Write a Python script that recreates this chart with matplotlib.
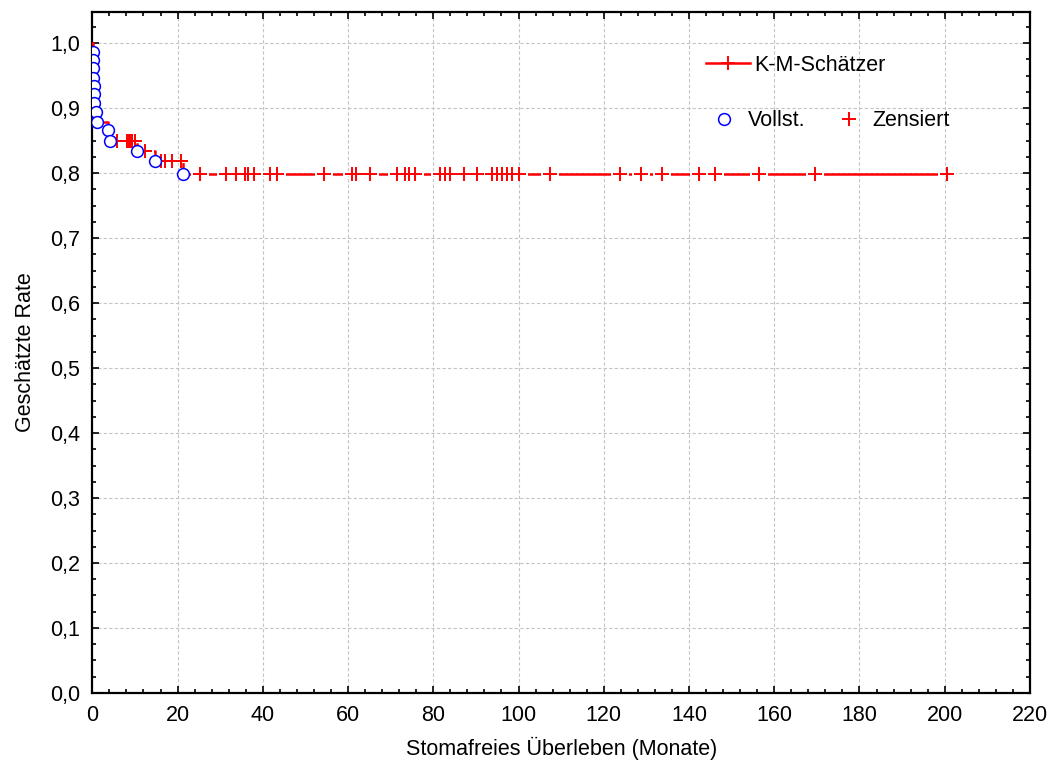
# km_stoma.py
# coding:utf-8

import numpy as np
import matplotlib
matplotlib.use('Agg')
import matplotlib.pyplot as plt
from matplotlib.lines import Line2D
from matplotlib.ticker import MultipleLocator

plt.rcParams['font.family'] = ['Liberation Sans', 'DejaVu Sans']

# Ereignisse (Stoma angelegt): Zeit in Monaten und K-M-Schaetzung danach
event_t = [0.1, 0.15, 0.2, 0.25, 0.3, 0.35, 0.4, 0.9, 1.2, 3.6, 4.2, 10.4, 14.8, 21.3]
event_s = [0.987, 0.974, 0.961, 0.947, 0.934, 0.921, 0.908, 0.894, 0.879, 0.866,
           0.850, 0.834, 0.818, 0.799]

# zensierte Beobachtungen (Monate)
censor_t = [5.7, 8.1, 8.5, 8.9, 9.2, 10.1, 12.3, 16.2, 17.0, 18.7, 20.8,
            25.3, 31.4, 33.7, 35.8, 36.6, 37.9, 41.7, 43.3, 54.4, 60.9, 61.9,
            65.2, 71.4, 73.4, 74.4, 75.7, 81.6, 82.8, 84.0, 87.2, 90.2, 93.7,
            94.9, 96.1, 97.3, 98.4, 100.2, 107.4, 123.8, 128.7, 133.7, 142.4,
            146.1, 156.4, 169.6, 200.6]

yticks = [0.0, 0.1, 0.2, 0.3, 0.4, 0.5, 0.6, 0.7, 0.8, 0.9, 1.0]
ylabels = ['0,0', '0,1', '0,2', '0,3', '0,4', '0,5', '0,6', '0,7', '0,8', '0,9', '1,0']
xticks = list(range(0, 221, 20))

# Treppenkurve
step_t = np.array([0.0] + event_t + [censor_t[-1]])
step_s = np.array([1.0] + event_s + [event_s[-1]])

# Kurvenwert an den zensierten Zeitpunkten
idx = np.searchsorted(np.array(event_t), np.array(censor_t), side='right')
censor_s = np.concatenate([[1.0], event_s])[idx]

red = '#ff0000'
blue = '#0000ff'
fs = 15.5

fig = plt.figure(figsize=(10.54, 7.76), dpi=100)
ax = fig.add_axes([0.0876, 0.107, 0.8896, 0.8776])

ax.step(step_t, step_s, where='post', color=red, lw=1.8, zorder=3)
# kleine Luecke in der Linie um jedes Kreuz
ax.plot(censor_t, censor_s, ls='none', marker='_', ms=12.5, mew=3, color='white', zorder=4)
ax.plot(censor_t, censor_s, ls='none', marker='+', ms=9.5, mew=1.4, color=red, zorder=5)
ax.plot(event_t, event_s, ls='none', marker='o', ms=8.5, mew=1.1, mfc='white', mec=blue, zorder=6)

ax.set_xlim(0, 220)
ax.set_ylim(0, 1.048)
ax.set_xticks(xticks)
ax.set_yticks(yticks)
ax.set_yticklabels(ylabels)
ax.xaxis.set_minor_locator(MultipleLocator(4))
ax.yaxis.set_minor_locator(MultipleLocator(0.025))
ax.tick_params(which='both', direction='in', top=True, right=True, labelsize=fs, width=1.2)
ax.tick_params(which='major', length=5, pad=9)
ax.tick_params(which='minor', length=3)
for sp in ax.spines.values():
    sp.set_linewidth(1.6)
ax.grid(True, which='major', color='#c4c4c4', ls=(0, (3, 2)), lw=0.8, zorder=0)

ax.set_xlabel('Stomafreies Überleben (Monate)', fontsize=fs, labelpad=7.5)
ax.set_ylabel('Geschätzte Rate', fontsize=fs)
ax.yaxis.set_label_coords(-0.060, 0.5)

km = Line2D([], [], color=red, lw=1.8, marker='+', ms=9.5, mew=1.4)
leg1 = ax.legend([km], ['K-M-Schätzer'], loc='center left', bbox_to_anchor=(0.655, 0.922),
                 frameon=False, fontsize=fs, handlelength=2.0, handletextpad=0.2,
                 borderpad=0, borderaxespad=0)
ax.add_artist(leg1)

voll = Line2D([], [], ls='none', marker='o', ms=8.5, mew=1.1, mfc='white', mec=blue)
zens = Line2D([], [], ls='none', marker='+', ms=9.5, mew=1.4, color=red)
ax.legend([voll, zens], ['Vollst.', 'Zensiert'], loc='center left', bbox_to_anchor=(0.662, 0.840),
          ncol=2, frameon=False, fontsize=fs, handlelength=1.0, handletextpad=0.62,
          columnspacing=1.5, borderpad=0, borderaxespad=0)

plt.savefig('out.png', dpi=100)
